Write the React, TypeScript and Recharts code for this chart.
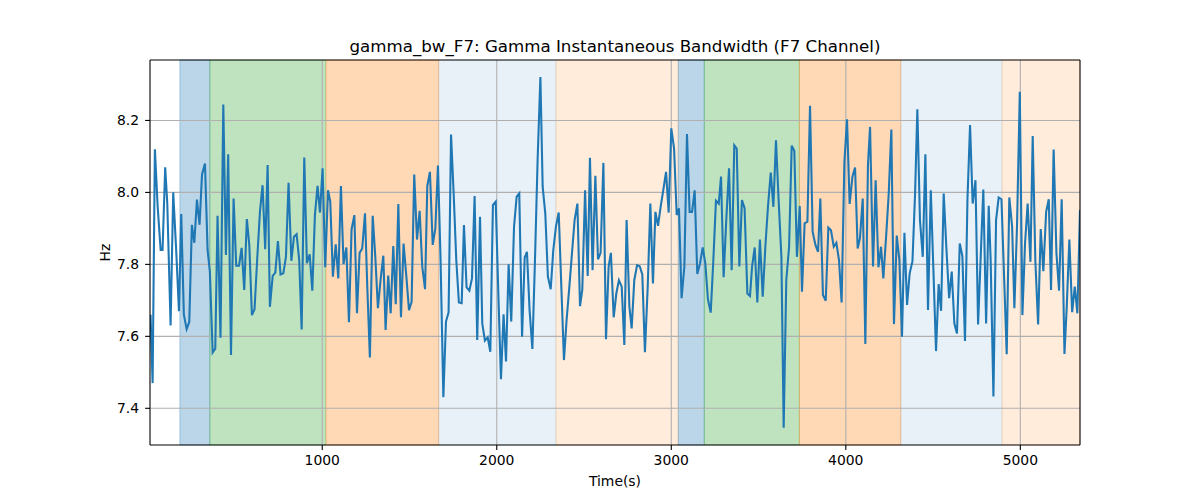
import React from 'react';
import { LineChart, Line, XAxis, YAxis, ReferenceArea, ReferenceLine } from 'recharts';

// [time (s), bandwidth (Hz)]
const samples: [number, number][] = [
  [16, 7.66], [28, 7.47], [41, 8.12], [57, 7.96], [74, 7.84], [85, 7.84], [100, 8.07], [112, 7.97],
  [131, 7.63], [146, 8.0], [162, 7.85], [179, 7.67], [192, 7.94], [207, 7.66], [223, 7.62], [238, 7.64],
  [253, 7.91], [267, 7.86], [282, 7.98], [297, 7.91], [311, 8.05], [328, 8.08], [343, 7.84], [356, 7.78],
  [372, 7.555], [387, 7.566], [400, 7.935], [417, 7.596], [433, 8.244], [448, 7.826], [461, 8.106], [477, 7.548],
  [492, 7.983], [507, 7.796], [523, 7.796], [538, 7.846], [553, 7.729], [568, 7.926], [582, 7.854], [597, 7.659],
  [612, 7.675], [628, 7.821], [643, 7.946], [658, 8.02], [673, 7.842], [687, 8.076], [700, 7.682], [716, 7.768],
  [731, 7.777], [746, 7.865], [761, 7.772], [777, 7.775], [792, 7.821], [807, 8.027], [823, 7.81], [838, 7.877],
  [853, 7.884], [868, 7.812], [882, 7.619], [897, 8.097], [912, 7.803], [928, 7.828], [943, 7.727], [958, 7.937],
  [973, 8.018], [987, 7.944], [1002, 8.067], [1017, 7.792], [1033, 8.006], [1046, 7.974], [1061, 7.766], [1077, 7.856],
  [1092, 7.761], [1107, 8.018], [1122, 7.801], [1138, 7.847], [1153, 7.639], [1168, 7.897], [1184, 7.937], [1199, 7.664],
  [1214, 7.832], [1229, 7.844], [1245, 7.942], [1258, 7.738], [1273, 7.541], [1289, 7.935], [1304, 7.821], [1319, 7.678],
  [1334, 7.756], [1350, 7.824], [1363, 7.618], [1378, 7.769], [1392, 7.664], [1407, 7.851], [1421, 7.689], [1436, 7.968],
  [1451, 7.653], [1466, 7.858], [1482, 7.766], [1497, 7.673], [1512, 7.696], [1527, 8.05], [1543, 7.869], [1558, 7.949],
  [1573, 7.794], [1589, 7.731], [1602, 8.018], [1617, 8.057], [1633, 7.854], [1648, 7.9], [1663, 8.075], [1678, 7.812],
  [1694, 7.431], [1709, 7.641], [1724, 7.667], [1738, 8.161], [1753, 7.997], [1768, 7.812], [1783, 7.694], [1799, 7.692],
  [1812, 7.909], [1827, 7.736], [1843, 7.727], [1858, 7.761], [1873, 7.99], [1888, 7.59], [1904, 7.932], [1917, 7.636],
  [1932, 7.588], [1948, 7.597], [1963, 7.557], [1978, 7.965], [1994, 7.974], [2009, 7.719], [2024, 7.481], [2039, 7.661],
  [2053, 7.53], [2068, 7.8], [2083, 7.641], [2099, 7.905], [2114, 7.988], [2129, 7.997], [2145, 7.599], [2160, 7.819],
  [2173, 7.835], [2188, 7.673], [2204, 7.565], [2219, 7.812], [2234, 8.09], [2250, 8.321], [2263, 8.016], [2278, 7.942],
  [2293, 7.766], [2309, 7.731], [2324, 7.84], [2339, 7.905], [2355, 7.944], [2370, 7.738], [2385, 7.534], [2400, 7.645],
  [2416, 7.738], [2431, 7.831], [2446, 7.923], [2462, 7.969], [2477, 7.684], [2490, 7.729], [2506, 8.006], [2521, 7.768],
  [2534, 8.096], [2549, 7.784], [2565, 8.046], [2580, 7.814], [2595, 7.832], [2611, 8.082], [2626, 7.592], [2641, 7.794],
  [2654, 7.832], [2670, 7.653], [2685, 7.719], [2700, 7.756], [2716, 7.738], [2731, 7.576], [2744, 7.923], [2760, 7.682],
  [2773, 7.622], [2788, 7.756], [2804, 7.798], [2819, 7.795], [2834, 7.772], [2849, 7.556], [2865, 7.738], [2880, 7.969],
  [2895, 7.747], [2909, 7.946], [2924, 7.907], [2939, 7.96], [2954, 8.006], [2970, 8.057], [2985, 7.944], [3000, 8.178],
  [3016, 8.122], [3031, 7.937], [3044, 7.956], [3059, 7.706], [3075, 7.794], [3090, 8.162], [3105, 7.946], [3119, 7.946],
  [3134, 8.006], [3149, 7.773], [3165, 7.803], [3180, 7.847], [3195, 7.803], [3210, 7.703], [3226, 7.666], [3241, 7.812],
  [3256, 7.977], [3272, 7.969], [3285, 8.044], [3300, 7.764], [3315, 7.923], [3331, 8.067], [3346, 7.784], [3361, 8.131],
  [3375, 8.122], [3390, 7.794], [3405, 7.979], [3420, 7.956], [3436, 7.719], [3451, 7.712], [3463, 7.794], [3478, 7.847],
  [3493, 7.694], [3508, 7.869], [3524, 7.71], [3539, 7.849], [3554, 7.96], [3570, 8.055], [3585, 7.96], [3600, 8.145],
  [3615, 7.979], [3631, 7.821], [3644, 7.346], [3659, 7.756], [3675, 7.849], [3690, 8.13], [3705, 8.116], [3720, 7.821],
  [3736, 7.962], [3749, 7.724], [3764, 7.914], [3780, 7.919], [3795, 8.241], [3810, 7.891], [3826, 7.854], [3841, 7.835],
  [3854, 7.983], [3869, 7.715], [3885, 7.699], [3900, 7.902], [3915, 7.895], [3931, 7.849], [3946, 7.86], [3961, 7.812],
  [3976, 7.694], [3992, 8.085], [4007, 8.203], [4022, 7.968], [4038, 8.044], [4053, 8.069], [4068, 7.844], [4081, 7.872],
  [4097, 7.983], [4112, 7.579], [4127, 8.076], [4139, 8.182], [4156, 7.794], [4171, 8.034], [4187, 7.792], [4202, 7.849],
  [4215, 7.761], [4231, 7.877], [4246, 7.997], [4261, 8.175], [4276, 7.634], [4292, 7.88], [4307, 7.812], [4322, 7.599],
  [4336, 7.888], [4351, 7.687], [4366, 7.775], [4382, 7.809], [4397, 7.997], [4410, 8.231], [4425, 7.923], [4441, 7.821],
  [4456, 8.106], [4471, 7.673], [4487, 8.006], [4502, 7.784], [4517, 7.559], [4532, 7.745], [4546, 7.671], [4561, 7.997],
  [4576, 7.849], [4592, 7.706], [4607, 7.78], [4622, 7.636], [4637, 7.608], [4653, 7.858], [4668, 7.823], [4683, 7.587],
  [4697, 7.979], [4712, 8.187], [4727, 7.969], [4743, 8.034], [4758, 7.633], [4773, 7.821], [4788, 8.008], [4804, 7.636],
  [4819, 7.963], [4830, 7.812], [4846, 7.433], [4861, 7.923], [4876, 7.986], [4892, 7.981], [4907, 7.766], [4922, 7.55],
  [4937, 7.986], [4953, 7.905], [4966, 7.678], [4981, 7.905], [4997, 8.28], [5012, 7.659], [5027, 7.858], [5042, 7.969],
  [5058, 7.807], [5071, 8.157], [5086, 7.812], [5102, 7.633], [5117, 7.898], [5132, 7.781], [5148, 7.946], [5163, 7.981],
  [5176, 7.729], [5191, 8.119], [5207, 7.831], [5222, 7.727], [5237, 7.981], [5253, 7.551], [5266, 7.682], [5281, 7.869],
  [5297, 7.667], [5312, 7.738], [5327, 7.664], [5342, 7.951],
];

// shaded phases
const spanStart = [184, 356, 1022, 1667, 2339, 3040, 3189, 3734, 4315, 4895];
const spanEnd = [356, 1020, 1667, 2339, 3040, 3189, 3734, 4315, 4895, 5342];
const spanKind = ['a', 'b', 'c', 'd', 'e', 'a', 'b', 'c', 'd', 'e'];

const xTicks = [1000, 2000, 3000, 4000, 5000];
const yTicks = [7.4, 7.6, 7.8, 8.0, 8.2];
const xDomain: [number, number] = [13, 5342];
const yDomain: [number, number] = [7.298, 8.368];

const kindStyle: Record<string, { fill: string; op: number }> = {
  a: { fill: '#1f77b4', op: 0.3 },
  b: { fill: '#2ca02c', op: 0.3 },
  c: { fill: '#ff7f0e', op: 0.3 },
  d: { fill: '#1f77b4', op: 0.1 },
  e: { fill: '#ff7f0e', op: 0.15 },
};

const FONT = 'DejaVu Sans, sans-serif';

export default function App() {
  const data = samples.map(([t, v]) => ({ t, v }));
  const tickStyle = { fill: '#000', fontSize: 13.9, fontFamily: FONT };
  return (
    <div style={{ position: 'absolute', left: 0, top: 0, width: 1200, height: 500, background: '#fff' }}>
      <LineChart width={1200} height={500} data={data} margin={{ top: 60, right: 120, bottom: 25, left: 90 }}>
        <XAxis
          dataKey="t"
          type="number"
          domain={xDomain}
          ticks={xTicks}
          allowDataOverflow
          tick={tickStyle}
          tickSize={4.9}
          tickMargin={5}
          height={30}
          stroke="#000"
          axisLine={{ stroke: '#000', strokeWidth: 1.1 }}
          tickLine={{ stroke: '#000', strokeWidth: 1.1 }}
        />
        <YAxis
          type="number"
          domain={yDomain}
          ticks={yTicks}
          allowDataOverflow
          tick={tickStyle}
          tickFormatter={(v: number) => v.toFixed(1)}
          tickSize={4.9}
          tickMargin={6}
          width={60}
          stroke="#000"
          axisLine={{ stroke: '#000', strokeWidth: 1.1 }}
          tickLine={{ stroke: '#000', strokeWidth: 1.1 }}
        />
        {spanStart.map((s, i) => {
          const st = kindStyle[spanKind[i]];
          return (
            <ReferenceArea
              key={'span' + i}
              x1={s}
              x2={spanEnd[i]}
              fill={st.fill}
              fillOpacity={st.op}
              stroke={st.fill}
              strokeOpacity={st.op}
              strokeWidth={1}
            />
          );
        })}
        {xTicks.map((t) => (
          <ReferenceLine key={'gx' + t} x={t} stroke="#b0b0b0" strokeWidth={1.1} />
        ))}
        {yTicks.map((t) => (
          <ReferenceLine key={'gy' + t} y={t} stroke="#b0b0b0" strokeWidth={1.1} />
        ))}
        <Line
          type="linear"
          dataKey="v"
          stroke="#1f77b4"
          strokeWidth={2.08}
          dot={false}
          activeDot={false}
          isAnimationActive={false}
        />
        <ReferenceLine y={yDomain[1]} stroke="#000" strokeWidth={1.1} />
        <ReferenceLine x={xDomain[1]} stroke="#000" strokeWidth={1.1} />
      </LineChart>
      <svg width={1200} height={500} style={{ position: 'absolute', left: 0, top: 0, pointerEvents: 'none' }}>
        <text x={615} y={52} textAnchor="middle" fontSize={16.67} fontFamily={FONT} fill="#000">
          gamma_bw_F7: Gamma Instantaneous Bandwidth (F7 Channel)
        </text>
        <text x={615} y={486} textAnchor="middle" fontSize={13.9} fontFamily={FONT} fill="#000">
          Time(s)
        </text>
        <text x={110} y={252.5} textAnchor="middle" fontSize={13.9} fontFamily={FONT} fill="#000" transform="rotate(-90 110 252.5)">
          Hz
        </text>
      </svg>
    </div>
  );
}
